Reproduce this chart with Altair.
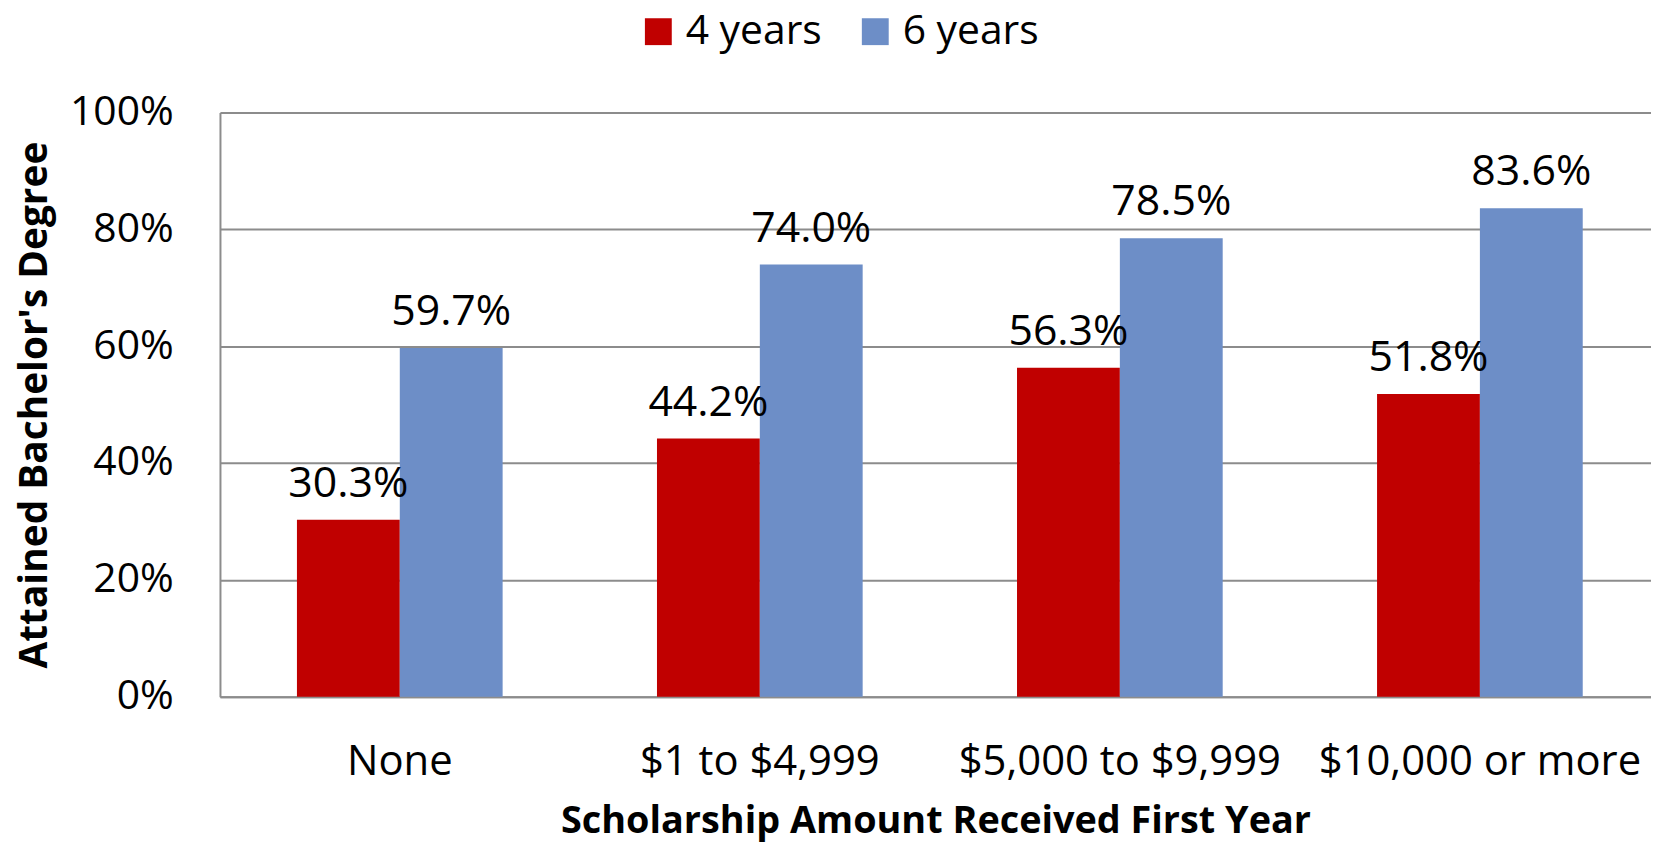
import altair as alt
import pandas as pd

categories = ["None", "$1 to $4,999", "$5,000 to $9,999", "$10,000 or more"]
series = ["4 years", "6 years"]
four_years = [30.3, 44.2, 56.3, 51.8]
six_years = [59.7, 74.0, 78.5, 83.6]
colors = ["#C00000", "#6D8EC7"]

rows = []
for c, a, b in zip(categories, four_years, six_years):
    rows.append({"cat": c, "series": series[0], "value": a / 100})
    rows.append({"cat": c, "series": series[1], "value": b / 100})
df = pd.DataFrame(rows)

FONT = "Open Sans"

x = alt.X(
    "cat:N",
    sort=categories,
    title="Scholarship Amount Received First Year",
    scale=alt.Scale(paddingInner=0.4287, paddingOuter=0.2017, align=0.53),
    axis=alt.Axis(
        labelAngle=0,
        labelFont=FONT,
        labelFontSize=42,
        labelColor="#000000",
        labelPadding=45,
        labelLimit=0,
        ticks=False,
        domain=True,
        domainColor="#8C8C8C",
        domainWidth=2,
        titleFont=FONT,
        titleFontSize=38,
        titleFontWeight="bold",
        titleColor="#000000",
        titlePadding=20,
    ),
)
xoff = alt.XOffset("series:N", sort=series, scale=alt.Scale(paddingInner=0, paddingOuter=0))
y = alt.Y(
    "value:Q",
    title="Attained Bachelor's Degree",
    scale=alt.Scale(domain=[0, 1], nice=False),
    axis=alt.Axis(
        format=".0%",
        values=[0, 0.2, 0.4, 0.6, 0.8, 1.0],
        labelFont=FONT,
        labelFontSize=41,
        labelColor="#000000",
        labelPadding=47,
        ticks=False,
        domain=True,
        domainColor="#8C8C8C",
        domainWidth=2,
        grid=True,
        gridColor="#8C8C8C",
        gridWidth=2,
        titleFont=FONT,
        titleFontSize=39,
        titleFontWeight="bold",
        titleColor="#000000",
        titlePadding=15,
        titleLimit=0,
    ),
)
color = alt.Color(
    "series:N",
    sort=series,
    scale=alt.Scale(domain=series, range=colors),
    legend=alt.Legend(
        title=None,
        orient="none",
        direction="horizontal",
        legendX=420,
        legendY=-102,
        symbolType="square",
        symbolSize=729,
        symbolStrokeWidth=0,
        labelFont=FONT,
        labelFontSize=41,
        labelColor="#000000",
        labelOffset=7,
        labelLimit=400,
        columnPadding=33,
    ),
)

bars = alt.Chart(df).mark_bar(opacity=1).encode(x=x, xOffset=xoff, y=y, color=color)
labels = alt.Chart(df).mark_text(
    baseline="bottom", dy=-14, font=FONT, fontSize=43, color="#000000"
).encode(
    x=alt.X("cat:N", sort=categories),
    xOffset=alt.XOffset("series:N", sort=series),
    y="value:Q",
    text=alt.Text("value:Q", format=".1%"),
)

chart = (
    alt.layer(bars, labels)
    .properties(width=1438, height=587)
    .configure_view(stroke=None)
    .configure(background="#FFFFFF")
    .properties(padding={"left": 213, "top": 103, "right": 0, "bottom": 150}, autosize=alt.AutoSizeParams(type="none"))
)

chart.save("out.html", embed_options={"renderer": "svg", "actions": False})
